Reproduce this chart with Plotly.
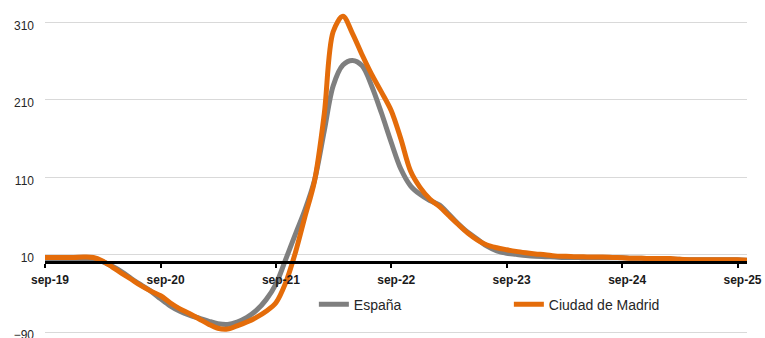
import pandas as pd
import plotly.graph_objects as go

# Monthly series, Sep-2019 .. Oct-2025
months = pd.date_range("2019-09-01", "2025-10-01", freq="MS")

espana = [
    4, 4, 4, 4, 4.5, 4.5, 1, -5, -12, -21, -29, -37,
    -47, -56, -63, -68, -72, -76, -79, -80, -77, -71, -62, -48,
    -28, 3, 36, 67, 106, 170, 228, 255, 261, 254, 228, 193,
    155, 121, 99, 88, 80, 74, 63, 50, 39, 30, 21, 15,
    12, 10.5, 9, 8, 7.5, 7, 6.5, 6.5, 6, 6, 6, 6,
    6, 5.5, 5.5, 5, 5, 4.5, 4, 3.5, 3.5, 3.5, 3.5, 3.5,
    3.5, 3,
]

madrid = [
    6.5, 6.5, 6.5, 6.5, 7, 6.5, 2, -6, -14, -22, -30, -37,
    -43, -52, -60, -66, -73, -80, -85, -86, -82, -77, -71, -63,
    -52, -27, 12, 58, 105, 192, 298, 318, 296, 268, 243, 220,
    196, 160, 118, 97, 82, 72, 61, 49, 38, 29, 22.5, 19,
    16.5, 14.3, 12.5, 11, 10, 8.5, 8, 7.5, 7.3, 7, 7, 6.5,
    6, 5.5, 5.5, 5, 5, 5, 4, 3.5, 3.5, 3.5, 3.5, 3.5,
    3.5, 3,
]

tick_dates = pd.date_range("2019-09-01", "2025-09-01", freq="12MS")
tick_labels = ["sep-19", "sep-20", "sep-21", "sep-22", "sep-23", "sep-24", "sep-25"]
y_ticks = [-90, 10, 110, 210, 310]

Y_MIN, Y_MAX = -95, 330

fig = go.Figure()
fig.add_trace(go.Scatter(
    x=months, y=espana, name="España", mode="lines",
    line=dict(color="#7f7f7f", width=5, shape="spline", smoothing=0.9),
))
fig.add_trace(go.Scatter(
    x=months, y=madrid, name="Ciudad de Madrid", mode="lines",
    line=dict(color="#e46c0a", width=5, shape="spline", smoothing=0.9),
))

fig.update_layout(
    width=765, height=338,
    margin=dict(l=45, r=18, t=7, b=2, autoexpand=False),
    plot_bgcolor="white", paper_bgcolor="white",
    font=dict(family="Liberation Sans, Arial, sans-serif", size=12, color="#262626"),
    showlegend=True,
    legend=dict(
        orientation="h", x=0.383, xanchor="left", y=0.095, yanchor="middle",
        font=dict(size=14, color="#262626"), entrywidth=150,
        bgcolor="rgba(0,0,0,0)",
    ),
    xaxis=dict(
        type="date",
        automargin=False,
        range=[months[0], months[-1]],
        anchor="free",
        position=(0 - Y_MIN) / (Y_MAX - Y_MIN),
        showgrid=False, zeroline=False,
        showline=True, linecolor="black", linewidth=3,
        ticks="outside", ticklen=4, tickwidth=2, tickcolor="black",
        tickvals=tick_dates, ticktext=tick_labels,
        tickfont=dict(size=12, color="#1a1a1a", family="Liberation Sans, Arial, sans-serif", weight="bold"),
        ticklabelshift=5,
        ticklabelstandoff=1,
    ),
    yaxis=dict(
        automargin=False,
        range=[Y_MIN, Y_MAX],
        tickvals=y_ticks,
        showgrid=True, gridcolor="#d9d9d9", gridwidth=1,
        zeroline=False, showline=False, ticks="",
        ticklabelstandoff=10,
        ticklabelshift=3,
        ticklabeloverflow="allow",
        tickfont=dict(size=12, color="#262626"),
    ),
)

fig.write_html("out.html")
